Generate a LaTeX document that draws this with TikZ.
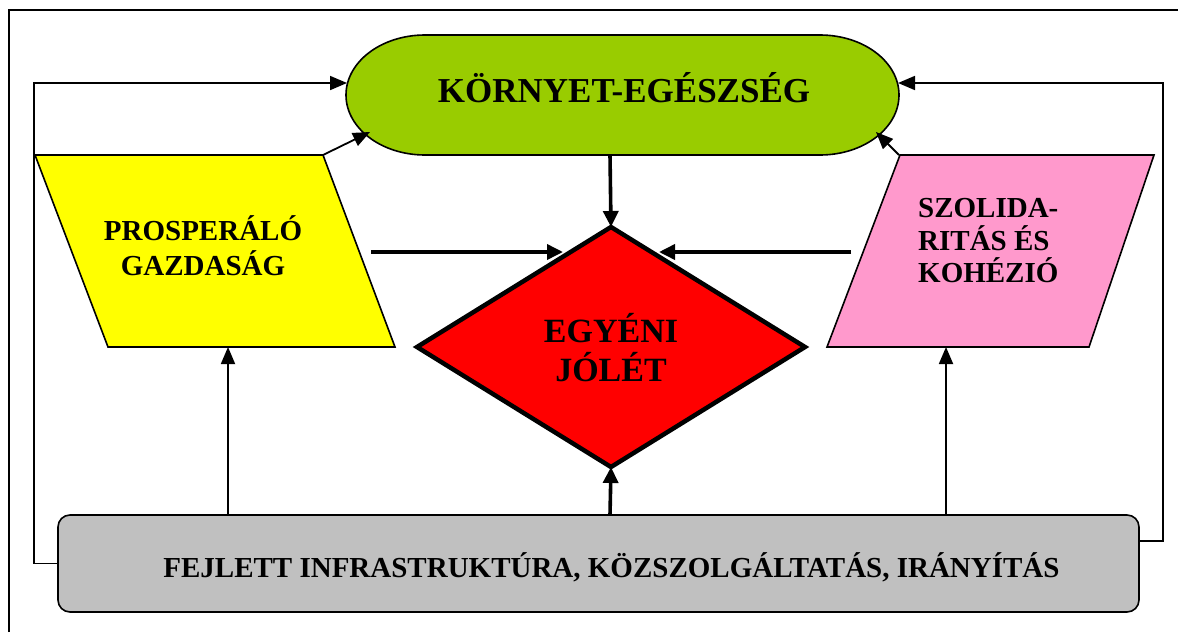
\documentclass[tikz,border=0pt]{standalone}
\usepackage{fontspec}
\setmainfont{Liberation Serif}
\usetikzlibrary{arrows.meta,shapes.geometric}
\definecolor{envgreen}{HTML}{99CC00}
\definecolor{ppink}{HTML}{FF99CC}
\definecolor{boxgray}{HTML}{C0C0C0}
\definecolor{dred}{HTML}{FF0000}
\definecolor{dyellow}{HTML}{FFFF00}
\begin{document}
\begin{tikzpicture}[x=1pt,y=-1pt,
  lbl/.style={font=\bfseries\fontsize{29}{33}\selectfont, inner sep=0pt},
  biglbl/.style={font=\bfseries\fontsize{35}{39}\selectfont, inner sep=0pt},
  midlbl/.style={font=\bfseries\fontsize{34}{38}\selectfont, inner sep=0pt},
  thinarrow/.style={line width=1.8pt, -{Triangle[length=17pt,width=14pt]}},
  thickarrow/.style={line width=3.6pt, -{Triangle[length=16pt,width=15pt]}},
  shapeline/.style={line width=1.6pt, line join=miter}]
\useasboundingbox (0,0) rectangle (1178,632);
\fill[white] (0,0) rectangle (1178,632);
\draw[line width=2pt] (9,632) -- (9,10) -- (1178,10);

% green stadium
\draw[shapeline, fill=envgreen] (425,35) -- (820,35)
  arc[start angle=90,end angle=-90,x radius=79pt,y radius=60pt] -- (425,155)
  arc[start angle=270,end angle=90,x radius=79pt,y radius=60pt] -- cycle;
\node[biglbl, anchor=base] (env) at (624,102) {KÖRNYET-EGÉSZSÉG};
\coordinate (envW) at (347,83);
\coordinate (envE) at (898,83);
\coordinate (envSW) at (370,132);
\coordinate (envSE) at (876,132);
\coordinate (envS) at (610,155);

% yellow parallelogram
\draw[shapeline, fill=dyellow] (35,155) -- (323,155) -- (395,347) -- (108,347) -- cycle;
\coordinate (yTR) at (323,155);
\coordinate (yB) at (228,347);
\coordinate (yR) at (371,252);
\node[lbl, anchor=base] (prosp1) at (203,240) {PROSPERÁLÓ};
\node[lbl, anchor=base] (prosp2) at (203,275) {GAZDASÁG};

% pink parallelogram
\draw[shapeline, fill=ppink] (900,155) -- (1154,155) -- (1089,347) -- (827,347) -- cycle;
\coordinate (pTL) at (899,155);
\coordinate (pB) at (946,347);
\coordinate (pL) at (851,252);
\node[lbl, anchor=base west] (szol1) at (918,217) {SZOLIDA-};
\node[lbl, anchor=base west] (szol2) at (918,250) {RITÁS ÉS};
\node[lbl, anchor=base west] (szol3) at (918,282) {KOHÉZIÓ};

% red diamond
\node[diamond, draw, line width=4.5pt, fill=dred, inner sep=0pt, outer sep=0pt,
  minimum width=388pt, minimum height=240pt] (jolet) at (611,347) {};
\node[midlbl, anchor=base] (jolet1) at (611,342) {EGYÉNI};
\node[midlbl, anchor=base] (jolet2) at (611,381) {JÓLÉT};
\coordinate (jNW) at (563,252);
\coordinate (jNE) at (659,252);

% gray box
\node[draw, fill=boxgray, rounded corners=12pt, line width=1.6pt,
  minimum width=1081pt, minimum height=97pt, inner sep=0pt, outer sep=0pt] (infra) at (598.5,563.5) {};
\node[lbl, anchor=base] (infratext) at (611.5,577) {FEJLETT INFRASTRUKTÚRA, KÖZSZOLGÁLTATÁS, IRÁNYÍTÁS};
\coordinate (infraE) at (1139,541);
\coordinate (iN1) at (228,515);
\coordinate (iN2) at (610,515);
\coordinate (iN3) at (946,515);

% connectors
\draw[thinarrow] (infra.west) -- ++(-24,0) |- (envW);
\draw[thinarrow] (infraE) -- ++(24,0) |- (envE);
\draw[thinarrow] (yTR) -- (envSW);
\draw[thinarrow] (pTL) -- (envSE);
\draw[thinarrow] (iN1) -- (yB);
\draw[thinarrow] (iN3) -- (pB);
\draw[thickarrow] (envS) -- (jolet.north);
\draw[thickarrow] (iN2) -- (jolet.south);
\draw[thickarrow] (yR) -- (jNW);
\draw[thickarrow] (pL) -- (jNE);
\end{tikzpicture}
\end{document}
